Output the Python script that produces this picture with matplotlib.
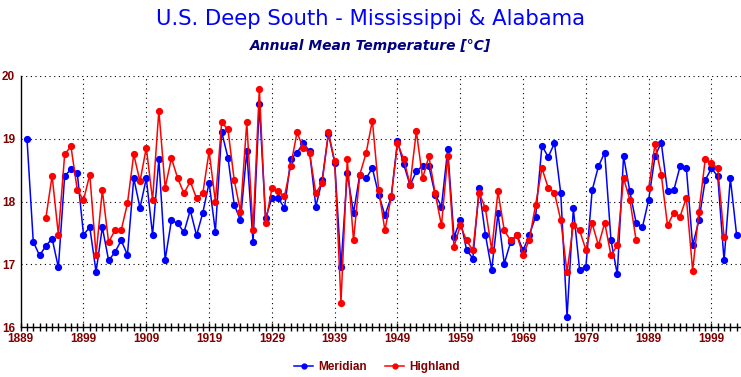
import numpy as np
import matplotlib
matplotlib.use("Agg")
import matplotlib.pyplot as plt
from matplotlib.ticker import MultipleLocator

title = "U.S. Deep South - Mississippi & Alabama"
subtitle = "Annual Mean Temperature [°C]"
series_names = ["Meridian", "Highland"]

meridian_years = list(range(1890, 2004))
meridian = [
    19.00, 17.36, 17.14, 17.29, 17.41, 16.95, 18.41, 18.51, 18.46, 17.47,  # 1890-1899
    17.59, 16.88, 17.59, 17.06, 17.19, 17.38, 17.15, 18.37, 17.90, 18.37,  # 1900-1909
    17.47, 18.67, 17.07, 17.70, 17.65, 17.51, 17.86, 17.46, 17.82, 18.30,  # 1910-1919
    17.52, 19.11, 18.70, 17.95, 17.70, 18.80, 17.35, 19.55, 17.73, 18.06,  # 1920-1929
    18.06, 17.89, 18.67, 18.78, 18.93, 18.80, 17.92, 18.34, 19.08, 18.62,  # 1930-1939
    16.96, 18.45, 17.82, 18.43, 18.37, 18.53, 18.11, 17.78, 18.07, 18.96,  # 1940-1949
    18.59, 18.26, 18.48, 18.57, 18.56, 18.11, 17.92, 18.83, 17.43, 17.71,  # 1950-1959
    17.23, 17.09, 18.21, 17.47, 16.91, 17.81, 17.01, 17.35, 17.47, 17.22,  # 1960-1969
    17.47, 17.76, 18.89, 18.71, 18.93, 18.13, 16.16, 17.89, 16.91, 16.96,  # 1970-1979
    18.18, 18.56, 18.78, 17.38, 16.84, 18.72, 18.16, 17.66, 17.59, 18.03,  # 1980-1989
    18.72, 18.94, 18.16, 18.18, 18.56, 18.53, 17.30, 17.70, 18.34, 18.53,  # 1990-1999
    18.40, 17.06, 18.37, 17.47,                                            # 2000-2003
]

highland_years = list(range(1893, 2002))
highland = [
    17.73, 18.41, 17.47, 18.75, 18.88, 18.19, 18.02,                       # 1893-1899
    18.43, 17.15, 18.18, 17.35, 17.54, 17.54, 17.97, 18.75, 18.32, 18.86,  # 1900-1909
    18.02, 19.45, 18.22, 18.69, 18.37, 18.13, 18.32, 18.05, 18.13, 18.80,  # 1910-1919
    18.00, 19.26, 19.15, 18.34, 17.84, 19.26, 17.54, 19.80, 17.66, 18.21,  # 1920-1929
    18.16, 18.08, 18.57, 19.10, 18.85, 18.77, 18.13, 18.30, 19.10, 18.64,  # 1930-1939
    16.39, 18.67, 17.38, 18.43, 18.77, 19.29, 18.19, 17.54, 18.08, 18.93,  # 1940-1949
    18.67, 18.27, 19.12, 18.37, 18.72, 18.13, 17.62, 18.72, 17.28, 17.62,  # 1950-1959
    17.38, 17.22, 18.14, 17.89, 17.23, 18.16, 17.54, 17.38, 17.46, 17.15,  # 1960-1969
    17.39, 17.95, 18.53, 18.22, 18.14, 17.70, 16.87, 17.63, 17.54, 17.23,  # 1970-1979
    17.65, 17.30, 17.66, 17.14, 17.30, 18.37, 18.03, 17.38, np.nan, 18.21, # 1980-1989
    18.91, 18.43, 17.62, 17.82, 17.76, 18.06, 16.90, 17.84, 18.67, 18.61,  # 1990-1999
    18.53, 17.44,                                                          # 2000-2001
]

x_ticks = list(range(1889, 2000, 10))
y_ticks = [16, 17, 18, 19, 20]

tick_color = "#800000"
fig = plt.figure(figsize=(7.41, 3.77), dpi=100)
fig.patch.set_facecolor("white")
ax = fig.add_axes([20.7 / 741, 1 - 327 / 377, 1 - 20.7 / 741, (327 - 76) / 377])

ax.plot(meridian_years, meridian, color="#0000FF", lw=1.1, marker="o",
        markersize=4.2, label=series_names[0], zorder=3)
ax.plot(highland_years, highland, color="#FF0000", lw=1.1, marker="o",
        markersize=4.2, label=series_names[1], zorder=4)

ax.set_xlim(1889, 2003.7)
ax.set_ylim(16, 20)
ax.set_xticks(x_ticks)
ax.set_yticks(y_ticks)
ax.xaxis.set_minor_locator(MultipleLocator(1))
ax.tick_params(axis="x", which="both", direction="inout", length=6, width=1,
               colors="black", labelcolor=tick_color, pad=1)
ax.tick_params(axis="y", which="both", length=0, labelcolor=tick_color, pad=4)
for lab in ax.get_xticklabels() + ax.get_yticklabels():
    lab.set_fontfamily("Liberation Sans")
    lab.set_fontweight("bold")
    lab.set_fontsize(8.5)

for s in ["top", "right"]:
    ax.spines[s].set_visible(False)
for s in ["left", "bottom"]:
    ax.spines[s].set_color("black")
    ax.spines[s].set_linewidth(1)

for y in y_ticks[1:]:
    ax.axhline(y, color="black", lw=0.8, ls=(0, (1, 3.2)), zorder=1)
for x in x_ticks[1:]:
    ax.axvline(x, color="black", lw=0.8, ls=(0, (1, 3.2)), zorder=1)

fig.text(0.5, 1 - 19 / 377, title, ha="center", va="center", color="#0000FF",
         fontsize=15.2, fontfamily="DejaVu Sans")
fig.text(0.5, 1 - 46 / 377, subtitle, ha="center", va="center", color="#000080",
         fontsize=10, fontweight="bold", fontstyle="italic", fontfamily="DejaVu Sans")

leg = fig.legend(loc="center", bbox_to_anchor=(377 / 741, 1 - 367 / 377), ncol=2,
                 frameon=False, handlelength=1.6, columnspacing=1.6, handletextpad=0.4,
                 prop={"family": "Liberation Sans", "weight": "bold", "size": 8.5})
for t in leg.get_texts():
    t.set_color(tick_color)
for h in leg.legend_handles:
    h.set_markersize(3.5)

fig.savefig("out.png", dpi=100, facecolor="white")
